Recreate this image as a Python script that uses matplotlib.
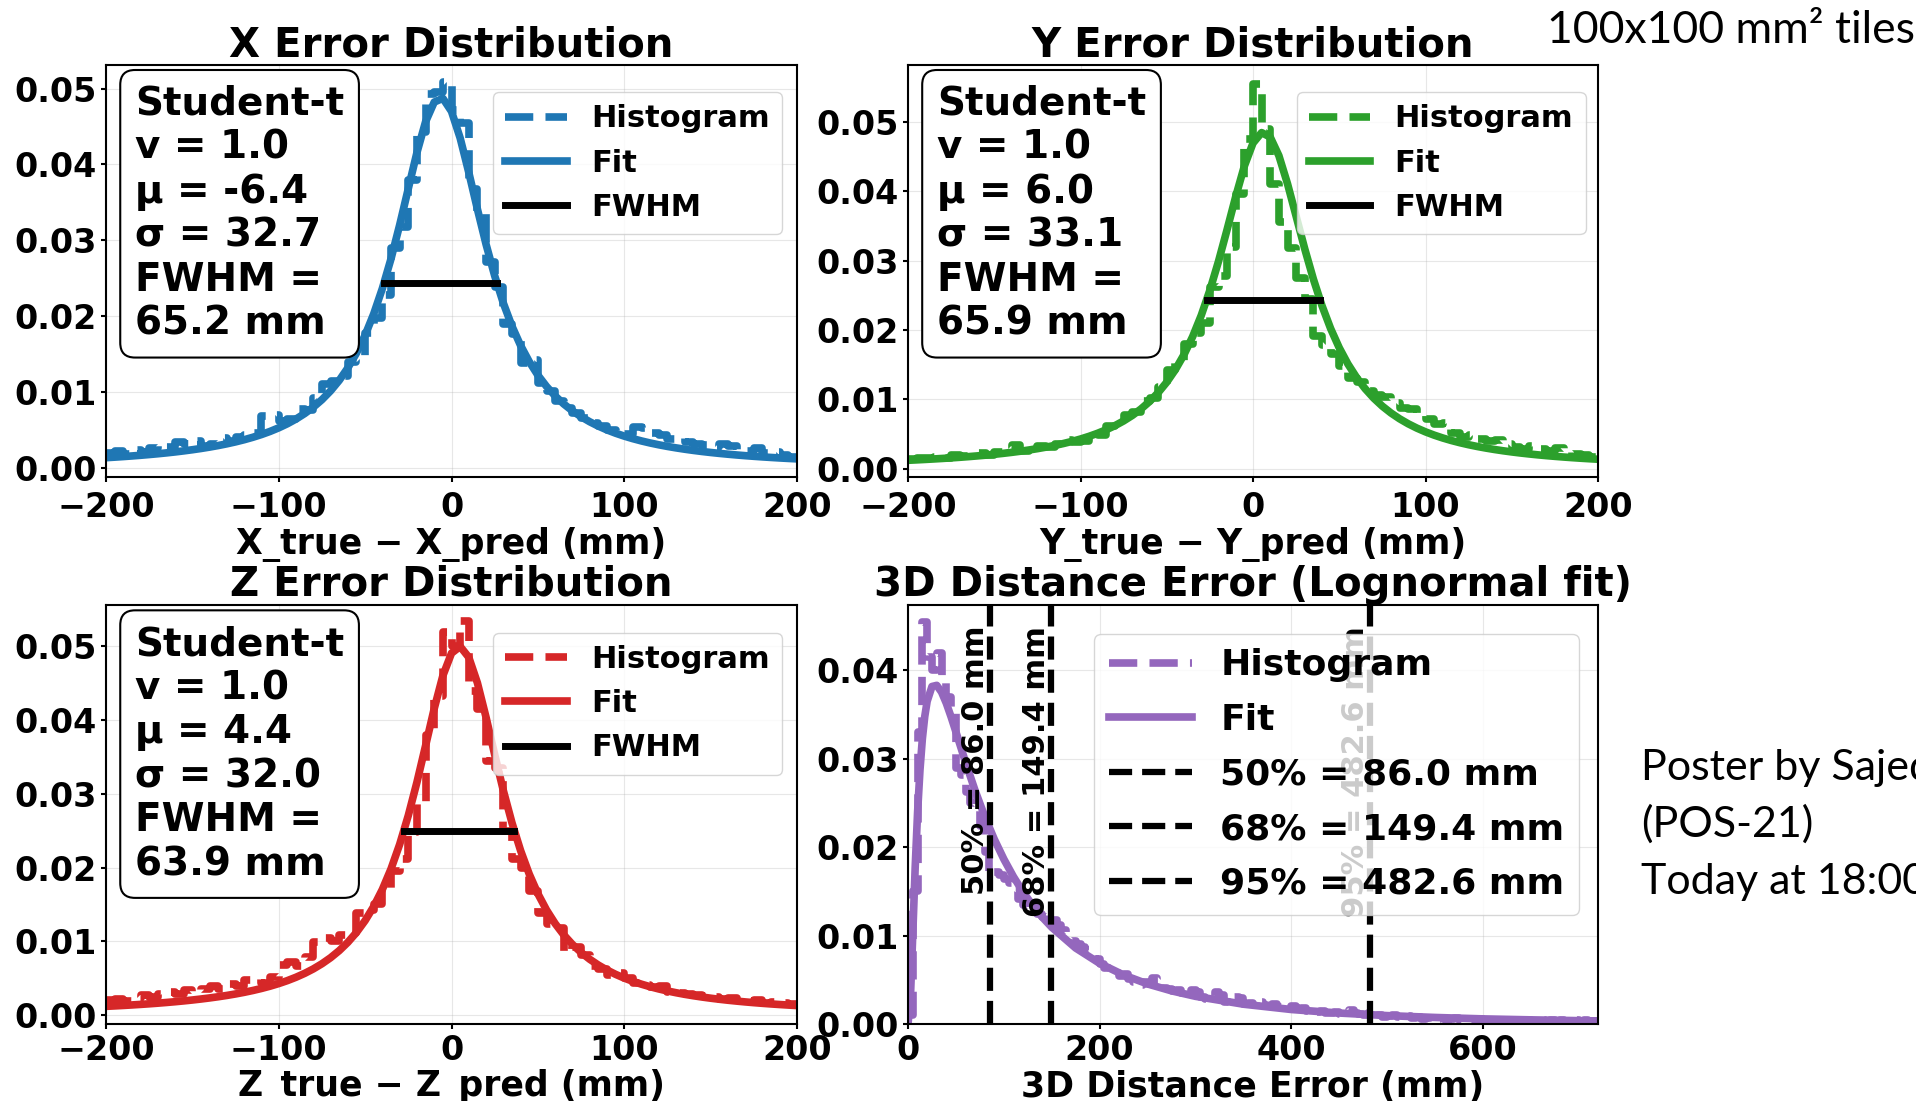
import numpy as np
import matplotlib
matplotlib.use('Agg')
import matplotlib.pyplot as plt
from matplotlib.ticker import MultipleLocator

plt.rcParams['font.family'] = 'DejaVu Sans'
plt.rcParams['font.weight'] = 'bold'
plt.rcParams['axes.labelweight'] = 'bold'
plt.rcParams['axes.titleweight'] = 'bold'

# --- X / Y / Z error histograms, 5 mm bins from -200 to 200 mm ---
xyz_edges = np.arange(-200, 201, 5)
fit_grid = np.arange(-200, 201, 5)

x_hist = [0.0020, 0.0022, 0.0018, 0.0024, 0.0021, 0.0026, 0.0030, 0.0027, 0.0034, 0.0031,
          0.0036, 0.0029, 0.0032, 0.0039, 0.0035, 0.0041, 0.0043, 0.0046, 0.0068, 0.0070,
          0.0062, 0.0064, 0.0078, 0.0076, 0.0092, 0.0110, 0.0114, 0.0121, 0.0139, 0.0143,
          0.0178, 0.0198, 0.0228, 0.0290, 0.0318, 0.0380, 0.0443, 0.0493, 0.0496, 0.0508,
          0.0472, 0.0455, 0.0368, 0.0335, 0.0272, 0.0238, 0.0190, 0.0176, 0.0138, 0.0142,
          0.0112, 0.0101, 0.0088, 0.0079, 0.0072, 0.0066, 0.0059, 0.0055, 0.0050, 0.0047,
          0.0045, 0.0054, 0.0052, 0.0046, 0.0043, 0.0038, 0.0040, 0.0034, 0.0031, 0.0030,
          0.0027, 0.0031, 0.0029, 0.0024, 0.0022, 0.0026, 0.0019, 0.0021, 0.0017, 0.0015]
x_fit = [0.001345, 0.001416, 0.001491, 0.001573, 0.001662, 0.001759, 0.001864, 0.001978, 0.002103, 0.002241,
         0.002392, 0.002558, 0.002742, 0.002947, 0.003175, 0.003428, 0.003713, 0.004034, 0.004396, 0.004809,
         0.005280, 0.005819, 0.006441, 0.007163, 0.008004, 0.008990, 0.010154, 0.011534, 0.013178, 0.015142,
         0.017497, 0.020316, 0.023666, 0.027575, 0.032019, 0.036816, 0.041567, 0.045625, 0.048212, 0.048710,
         0.046989, 0.043482, 0.038944, 0.034105, 0.029472, 0.025314, 0.021720, 0.018678, 0.016128, 0.013999,
         0.012221, 0.010732, 0.009478, 0.008418, 0.007516, 0.006745, 0.006082, 0.005507, 0.005008, 0.004572,
         0.004188, 0.003850, 0.003549, 0.003282, 0.003044, 0.002830, 0.002637, 0.002463, 0.002305, 0.002162,
         0.002032, 0.001913, 0.001804, 0.001704, 0.001612, 0.001527, 0.001448, 0.001376, 0.001308, 0.001246,
         0.001188]
x_fwhm = [-39.0, 26.2, 0.0244]
x_stats = ['1.0', '-6.4', '32.7', '65.2']

y_hist = [0.0014, 0.0016, 0.0015, 0.0017, 0.0016, 0.0019, 0.0018, 0.0021, 0.0022, 0.0020,
          0.0024, 0.0029, 0.0034, 0.0026, 0.0030, 0.0033, 0.0031, 0.0036, 0.0041, 0.0038,
          0.0040, 0.0052, 0.0049, 0.0062, 0.0066, 0.0078, 0.0082, 0.0098, 0.0102, 0.0118,
          0.0142, 0.0155, 0.0180, 0.0196, 0.0210, 0.0262, 0.0278, 0.0320, 0.0396, 0.0475,
          0.0555, 0.0490, 0.0410, 0.0356, 0.0318, 0.0275, 0.0245, 0.0192, 0.0178, 0.0165,
          0.0148, 0.0131, 0.0125, 0.0112, 0.0106, 0.0103, 0.0095, 0.0088, 0.0086, 0.0079,
          0.0072, 0.0064, 0.0066, 0.0052, 0.0046, 0.0048, 0.0043, 0.0040, 0.0042, 0.0035,
          0.0031, 0.0029, 0.0033, 0.0028, 0.0026, 0.0030, 0.0024, 0.0021, 0.0019, 0.0017]
y_fit = [0.001210, 0.001269, 0.001333, 0.001402, 0.001476, 0.001556, 0.001642, 0.001736, 0.001838, 0.001949,
         0.002072, 0.002205, 0.002351, 0.002512, 0.002689, 0.002885, 0.003105, 0.003348, 0.003622, 0.003927,
         0.004273, 0.004665, 0.005111, 0.005621, 0.006208, 0.006886, 0.007674, 0.008595, 0.009677, 0.010955,
         0.012471, 0.014282, 0.016446, 0.019035, 0.022106, 0.025728, 0.029888, 0.034490, 0.039246, 0.043639,
         0.046943, 0.048455, 0.047796, 0.045132, 0.041084, 0.036398, 0.031689, 0.027330, 0.023489, 0.020201,
         0.017425, 0.015102, 0.013158, 0.011531, 0.010162, 0.009006, 0.008025, 0.007187, 0.006468, 0.005846,
         0.005307, 0.004837, 0.004424, 0.004061, 0.003739, 0.003454, 0.003199, 0.002971, 0.002765, 0.002580,
         0.002413, 0.002261, 0.002123, 0.001997, 0.001882, 0.001776, 0.001679, 0.001590, 0.001507, 0.001431,
         0.001360]
y_fwhm = [-26.95, 38.95, 0.02425]
y_stats = ['1.0', '6.0', '33.1', '65.9']

z_hist = [0.0020, 0.0022, 0.0019, 0.0023, 0.0027, 0.0024, 0.0029, 0.0031, 0.0028, 0.0034,
          0.0032, 0.0036, 0.0039, 0.0035, 0.0042, 0.0040, 0.0047, 0.0049, 0.0044, 0.0052,
          0.0068, 0.0072, 0.0066, 0.0079, 0.0099, 0.0104, 0.0100, 0.0108, 0.0112, 0.0138,
          0.0142, 0.0150, 0.0170, 0.0196, 0.0212, 0.0248, 0.0286, 0.0380, 0.0433, 0.0520,
          0.0500, 0.0534, 0.0440, 0.0415, 0.0345, 0.0335, 0.0250, 0.0212, 0.0200, 0.0168,
          0.0138, 0.0124, 0.0118, 0.0086, 0.0092, 0.0081, 0.0066, 0.0062, 0.0054, 0.0057,
          0.0050, 0.0043, 0.0041, 0.0038, 0.0040, 0.0032, 0.0030, 0.0029, 0.0027, 0.0026,
          0.0024, 0.0022, 0.0023, 0.0020, 0.0019, 0.0021, 0.0017, 0.0018, 0.0016, 0.0015]
z_fit = [0.001193, 0.001252, 0.001315, 0.001383, 0.001457, 0.001537, 0.001624, 0.001718, 0.001820, 0.001931,
         0.002053, 0.002187, 0.002334, 0.002495, 0.002674, 0.002873, 0.003094, 0.003341, 0.003618, 0.003929,
         0.004282, 0.004682, 0.005139, 0.005663, 0.006267, 0.006968, 0.007785, 0.008744, 0.009876, 0.011219,
         0.012823, 0.014746, 0.017057, 0.019835, 0.023156, 0.027074, 0.031582, 0.036531, 0.041559, 0.046016,
         0.049069, 0.049982, 0.048510, 0.045041, 0.040375, 0.035318, 0.030451, 0.026078, 0.022306, 0.019123,
         0.016464, 0.014253, 0.012412, 0.010875, 0.009586, 0.008499, 0.007577, 0.006790, 0.006114, 0.005530,
         0.005024, 0.004581, 0.004193, 0.003851, 0.003548, 0.003279, 0.003039, 0.002823, 0.002630, 0.002455,
         0.002297, 0.002154, 0.002023, 0.001904, 0.001794, 0.001694, 0.001602, 0.001517, 0.001439, 0.001367,
         0.001299]
z_fwhm = [-27.55, 36.35, 0.0250]
z_stats = ['1.0', '4.4', '32.0', '63.9']

# --- 3D distance error, 5 mm bins from 0 to 720 mm ---
dist_edges = np.arange(0, 721, 5)
dist_hist = [0.0010, 0.0150, 0.0330, 0.0455, 0.0415, 0.0400, 0.0420, 0.0392, 0.0370, 0.0352, 0.0290, 0.0282,
             0.0262, 0.0250, 0.0243, 0.0224, 0.0195, 0.0168, 0.0172, 0.0168, 0.0164, 0.0160, 0.0150, 0.0141,
             0.0135, 0.0128, 0.0134, 0.0124, 0.0121, 0.0126, 0.0118, 0.0112, 0.0106, 0.0098, 0.0094, 0.0091,
             0.0087, 0.0084, 0.0080, 0.0074, 0.0068, 0.0063, 0.0061, 0.0058, 0.0054, 0.0056, 0.0051, 0.0047,
             0.0044, 0.0048, 0.0045, 0.0052, 0.0050, 0.0041, 0.0040, 0.0037, 0.0039, 0.0035, 0.0032, 0.0038,
             0.0036, 0.0031, 0.0028, 0.0030, 0.0036, 0.0033, 0.0025, 0.0024, 0.0031, 0.0029, 0.0023, 0.0024,
             0.0021, 0.0025, 0.0022, 0.0020, 0.0023, 0.0019, 0.0021, 0.0018, 0.0020, 0.0017, 0.0018, 0.0015,
             0.0016, 0.0014, 0.0015, 0.0013, 0.0012, 0.0014, 0.0011, 0.0015, 0.0016, 0.0012, 0.0011, 0.0010,
             0.0012, 0.0009, 0.0010, 0.0008, 0.0009, 0.0010, 0.0008, 0.0007, 0.0009, 0.0007, 0.0008, 0.0006,
             0.0007, 0.0008, 0.0006, 0.0007, 0.0005, 0.0006, 0.0007, 0.0005, 0.0006, 0.0005, 0.0004, 0.0006,
             0.0005, 0.0004, 0.0005, 0.0006, 0.0004, 0.0005, 0.0004, 0.0003, 0.0005, 0.0004, 0.0003, 0.0004,
             0.0005, 0.0003, 0.0004, 0.0003, 0.0004, 0.0003, 0.0002, 0.0004, 0.0003, 0.0004, 0.0003, 0.0003]
dist_fit_x = [0, 2.5, 5, 7.5, 10, 12.5, 15, 17.5, 20, 25, 30, 35, 40, 45, 50, 60, 70, 80, 90, 100,
              110, 120, 130, 140, 150, 175, 200, 225, 250, 275, 300, 350, 400, 450, 500, 550, 600, 650, 700, 720]
dist_fit = [0.0, 0.00285, 0.01023, 0.01773, 0.02395, 0.02874, 0.03229, 0.03480, 0.03651, 0.03818,
            0.03831, 0.03755, 0.03628, 0.03473, 0.03305, 0.02963, 0.02641, 0.02349, 0.02091, 0.01865,
            0.01667, 0.01494, 0.01343, 0.01210, 0.01094, 0.00859, 0.00686, 0.00554, 0.00453, 0.00375,
            0.00313, 0.00224, 0.00164, 0.00124, 0.00095, 0.00074, 0.00058, 0.00047, 0.00038, 0.00035]
pct_names = ['50%', '68%', '95%']
pct_values = [86.0, 149.4, 482.6]

W, H = 1916, 1101
fig = plt.figure(figsize=(W / 100, H / 100), dpi=100)


def px_axes(left, top, right, bottom):
    return fig.add_axes([left / W, 1 - bottom / H, (right - left) / W, (bottom - top) / H])


def style_axes(ax, title, xlabel, xpad):
    ax.set_title(title, fontsize=29)
    ax.tick_params(labelsize=24, width=1.5)
    ax.tick_params(axis='x', pad=xpad)
    ax.set_xlabel(xlabel, fontsize=25, labelpad=2)
    ax.yaxis.set_major_locator(MultipleLocator(0.01))
    ax.grid(True, alpha=0.3)
    for s in ax.spines.values():
        s.set_linewidth(1.5)


def error_panel(ax, hist, fit, fwhm, stats, color, axis, ylim, xpad, leg_right):
    ax.plot(xyz_edges, np.append(hist, hist[-1]), drawstyle='steps-post', ls='--', lw=5.5,
            color=color, label='Histogram')
    ax.plot(fit_grid, fit, lw=5.5, color=color, label='Fit')
    ax.plot(fwhm[:2], [fwhm[2], fwhm[2]], color='black', lw=5, label='FWHM')
    ax.set_xlim(-200, 200)
    ax.set_ylim(*ylim)
    ax.xaxis.set_major_locator(MultipleLocator(100))
    style_axes(ax, f'{axis} Error Distribution', f'{axis}_true \u2212 {axis}_pred (mm)', xpad)
    txt = (f'Student-t\nv = {stats[0]}\n\u03bc = {stats[1]}\n'
           f'\u03c3 = {stats[2]}\nFWHM =\n{stats[3]} mm')
    ax.text(0.042, 0.952, txt, transform=ax.transAxes, fontsize=28, va='top', ha='left',
            zorder=6, bbox=dict(boxstyle='round,pad=0.38', fc='white', ec='black', lw=1.5))
    ax.legend(loc='upper right', bbox_to_anchor=(leg_right, 0.934), borderaxespad=0,
              fontsize=22, framealpha=0.8)


ax1 = px_axes(106, 65, 797, 477)
error_panel(ax1, x_hist, x_fit, x_fwhm, x_stats, 'tab:blue', 'X', (-0.0012, 0.0531), 6.5, 0.978)

ax2 = px_axes(908, 65, 1598, 477)
error_panel(ax2, y_hist, y_fit, y_fwhm, y_stats, 'tab:green', 'Y', (-0.0012, 0.0582), 6.5, 0.982)

ax3 = px_axes(106, 605, 797, 1024)
error_panel(ax3, z_hist, z_fit, z_fwhm, z_stats, 'tab:red', 'Z', (-0.0012, 0.0556), 3.5, 0.978)

ax4 = px_axes(908, 605, 1598, 1024)
ax4.plot(dist_edges, np.append(dist_hist, dist_hist[-1]), drawstyle='steps-post', ls='--', lw=5.5,
         color='tab:purple', label='Histogram')
ax4.plot(dist_fit_x, dist_fit, lw=5.5, color='tab:purple', label='Fit')
ax4.set_xlim(0, 720)
ax4.set_ylim(0, 0.0474)
ax4.xaxis.set_major_locator(MultipleLocator(200))
for name, val in zip(pct_names, pct_values):
    lab = f'{name} = {val:.1f} mm'
    ax4.axvline(val, color='black', ls='--', lw=4.5, label=lab)
    ax4.text(val, 0.95 * 0.0474, lab, rotation=90, ha='right', va='top', fontsize=22)
style_axes(ax4, '3D Distance Error (Lognormal fit)', '3D Distance Error (mm)', 3.5)
ax4.legend(loc='upper right', bbox_to_anchor=(0.9725, 0.931), borderaxespad=0,
           fontsize=26, framealpha=0.8, labelspacing=0.57, handlelength=2.3)

# slide annotations around the figure
fig.text(1547 / W, 1 - 43 / H, '100x100 mm\u00b2 tiles', fontsize=32, family='Lato',
         weight='normal', va='baseline', ha='left')
for i, line in enumerate(['Poster by Sajed', '(POS-21)', 'Today at 18:00']):
    fig.text(1641 / W, 1 - (780 + 57 * i) / H, line, fontsize=31, family='Lato',
             weight='normal', va='baseline', ha='left')

fig.savefig('out.png', dpi=100)
